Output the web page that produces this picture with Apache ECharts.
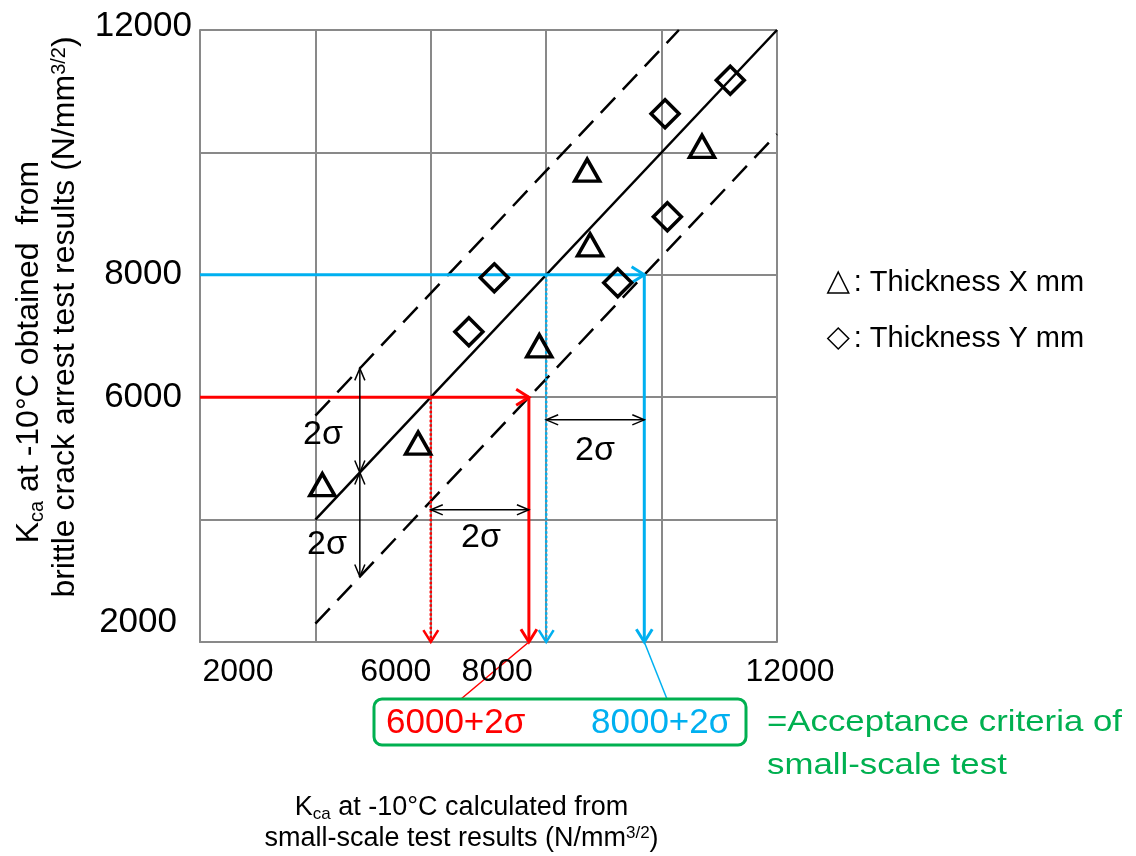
<!DOCTYPE html>
<html>
<head>
<meta charset="utf-8">
<title>Kca acceptance criteria</title>
<script src="https://cdn.jsdelivr.net/npm/echarts@6/dist/echarts.min.js"></script>
<style>
  html, body { margin: 0; padding: 0; background: #fff; }
  #chart { width: 1136px; height: 856px; }
</style>
</head>
<body>
<div id="chart"></div>
<script>
// tick labels that are printed (N/mm^3/2)
const xTicks = [2000, 6000, 8000, 12000]
const yTicks = [2000, 6000, 8000, 12000]

// Thickness X mm (triangles): small-scale estimate vs arrest test
const thickXSmall = [4120, 5780, 7880, 8760, 8710, 10700]
const thickXArrest = [4570, 5250, 6840, 8490, 9710, 10100]
// Thickness Y mm (diamonds)
const thickYSmall = [6660, 7100, 9240, 10100, 10060, 11190]
const thickYArrest = [7070, 7950, 7870, 8950, 10630, 11180]

// mean line and the +/-2 sigma band
const meanLine = [[4000, 4000], [12000, 12000]]
const upperBand = [[4000, 5700], [10300, 12000]]
const lowerBand = [[4000, 2300], [12000, 10300]]

// guide arrows: [x1, y1, x2, y2, headAtStart, headAtEnd]
const redGuide = [[2000, 6000, 7700, 6000, 0, 1], [7700, 6000, 7700, 2000, 0, 1]]
const redDotted = [[6000, 6000, 6000, 2000, 0, 1]]
const blueGuide = [[2000, 8000, 9700, 8000, 0, 1], [9700, 8000, 9700, 2000, 0, 1]]
const blueDotted = [[8000, 8000, 8000, 2000, 0, 1]]
const sigmaArrows = [
  [4770, 6470, 4770, 4770, 1, 1],
  [4770, 4770, 4770, 3070, 1, 1],
  [6000, 4160, 7700, 4160, 1, 1],
  [8000, 5630, 9700, 5630, 1, 1]
]

const FONT = '"Liberation Sans", Arial, sans-serif'
const GRAY = '#898989'
const RED = '#ff0000'
const BLUE = '#00b0f0'
const GREEN = '#00b050'

// label nudges (px) so the tick labels sit where the original put them
const xShift = { 2000: 38, 6000: -35, 8000: -49, 12000: 13 }
const yPad = { 2000: [0, 15, 40, 0], 6000: [0, 10, 0, 0], 8000: [0, 10, 0, 0], 12000: [0, 0, 8, 0] }

const xRich = {}
xTicks.forEach(v => {
  const s = xShift[v]
  xRich['x' + v] = { fontSize: 32, fontFamily: FONT, color: '#000', padding: s > 0 ? [0, 0, 0, 2 * s] : [0, -2 * s, 0, 0] }
})
const yRich = {}
yTicks.forEach(v => {
  yRich['y' + v] = { fontSize: 35, fontFamily: FONT, color: '#000', padding: yPad[v] }
})

const titleRich = (size) => {
  const n = { fontSize: size, fontFamily: FONT, color: '#000', lineHeight: size + 4, verticalAlign: 'middle' }
  const small = Math.round(size * 0.63)
  return {
    n,
    ne: Object.assign({}, n, { padding: [0, 32, 0, 0] }),
    ns: Object.assign({}, n, { padding: [0, 0, 0, 38] }),
    sub: { fontSize: small, fontFamily: FONT, color: '#000', lineHeight: small, verticalAlign: 'bottom' },
    sup: { fontSize: small, fontFamily: FONT, color: '#000', lineHeight: small, verticalAlign: 'top', padding: [2, 0, 0, 0] }
  }
}

const arrowSeries = (name, data, color, width, dash, headLen, headAng) => ({
  type: 'custom',
  name,
  data,
  encode: { x: [0, 2], y: [1, 3] },
  silent: true,
  z: 3,
  renderItem: (params, api) => {
    const a = api.coord([api.value(0), api.value(1)])
    const b = api.coord([api.value(2), api.value(3)])
    const children = [{
      type: 'line',
      shape: { x1: a[0], y1: a[1], x2: b[0], y2: b[1] },
      style: { stroke: color, lineWidth: width, lineDash: dash }
    }]
    const head = (tip, from) => {
      const dx = from[0] - tip[0], dy = from[1] - tip[1]
      const len = Math.hypot(dx, dy)
      const ux = dx / len, uy = dy / len
      const pt = s => {
        const c = Math.cos(s * headAng), sn = Math.sin(s * headAng)
        return [tip[0] + (ux * c - uy * sn) * headLen, tip[1] + (ux * sn + uy * c) * headLen]
      }
      return {
        type: 'polyline',
        shape: { points: [pt(1), tip, pt(-1)] },
        style: { stroke: color, lineWidth: width, fill: null }
      }
    }
    if (api.value(4)) children.push(head(a, b))
    if (api.value(5)) children.push(head(b, a))
    return { type: 'group', children }
  }
})

const bandLine = (name, data, dashed) => ({
  type: 'line',
  name,
  data,
  showSymbol: false,
  silent: true,
  z: 2,
  lineStyle: { color: '#000', width: 2.5, type: dashed ? [21, 11] : 'solid' }
})

const chart = echarts.init(document.getElementById('chart'))

const option = {
  animation: false,
  backgroundColor: '#fff',
  grid: { left: 200, right: 359, top: 30, bottom: 214, outerBoundsMode: 'none' },
  legend: {
    orient: 'vertical',
    left: 822,
    top: 263,
    itemGap: 27,
    itemWidth: 21,
    itemHeight: 21,
    selectedMode: false,
    data: ['Thickness X mm', 'Thickness Y mm'],
    formatter: n => ': ' + n,
    itemStyle: { borderWidth: 1.5 },
    textStyle: { fontSize: 29, fontFamily: FONT, color: '#000' }
  },
  xAxis: {
    type: 'value',
    min: 2000,
    max: 12000,
    interval: 2000,
    axisLine: { show: true, lineStyle: { color: GRAY, width: 2 } },
    axisTick: { show: false },
    splitLine: { show: true, lineStyle: { color: GRAY, width: 2 } },
    axisLabel: {
      margin: 14,
      formatter: v => xTicks.includes(v) ? '{x' + v + '|' + v + '}' : '',
      rich: xRich
    },
    name: '{n|K}{sub|ca}{n| at -10°C calculated from}\n{n|small-scale test results (N/mm}{sup|3/2}{n|)}',
    nameLocation: 'middle',
    nameGap: 150,
    nameTextStyle: { fontSize: 27, fontFamily: FONT, color: '#000', padding: [0, 54, 0, 0], rich: titleRich(27) }
  },
  yAxis: {
    type: 'value',
    min: 2000,
    max: 12000,
    interval: 2000,
    axisLine: { show: true, lineStyle: { color: GRAY, width: 2 } },
    axisTick: { show: false },
    splitLine: { show: true, lineStyle: { color: GRAY, width: 2 } },
    axisLabel: {
      margin: 8,
      formatter: v => yTicks.includes(v) ? '{y' + v + '|' + v + '}' : '',
      rich: yRich
    },
    name: '{n|K}{sub|ca}{ne| at -10°C obtained  from}\n{ns|brittle crack arrest test results (N/mm}{sup|3/2}{n|)}',
    nameLocation: 'middle',
    nameRotate: 90,
    nameGap: 117,
    nameTextStyle: { fontSize: 32, fontFamily: FONT, color: '#000', rich: titleRich(32) }
  },
  series: [
    bandLine('mean', meanLine, false),
    bandLine('upper 2σ', upperBand, true),
    bandLine('lower 2σ', lowerBand, true),
    arrowSeries('red guide', redGuide, RED, 3, null, 15, 0.56),
    arrowSeries('red dotted', redDotted, RED, 2.5, [2.5, 2], 14, 0.56),
    arrowSeries('blue guide', blueGuide, BLUE, 3, null, 15, 0.56),
    arrowSeries('blue dotted', blueDotted, BLUE, 2.5, [2.5, 2], 14, 0.56),
    arrowSeries('2σ', sigmaArrows, '#000', 1.5, null, 13, 0.4),
    {
      name: 'Thickness X mm',
      type: 'scatter',
      z: 4,
      data: thickXSmall.map((x, i) => [x, thickXArrest[i]]),
      symbol: 'triangle',
      symbolSize: [25, 22],
      itemStyle: { color: 'rgba(0,0,0,0)', borderColor: '#000', borderWidth: 3.5, opacity: 1 }
    },
    {
      name: 'Thickness Y mm',
      type: 'scatter',
      z: 4,
      data: thickYSmall.map((x, i) => [x, thickYArrest[i]]),
      symbol: 'diamond',
      symbolSize: [28, 28],
      itemStyle: { color: 'rgba(0,0,0,0)', borderColor: '#000', borderWidth: 3.5, opacity: 1 }
    }
  ]
}

chart.setOption(option)

// annotations drawn after layout so the leader lines start at the arrow tips
const redTip = chart.convertToPixel({ gridIndex: 0 }, [redGuide[1][2], redGuide[1][3]])
const blueTip = chart.convertToPixel({ gridIndex: 0 }, [blueGuide[1][2], blueGuide[1][3]])

const txt = (x, y, text, size, color, align, sx) => ({
  type: 'text',
  x, y,
  scaleX: sx || 1,
  silent: true,
  z: 10,
  style: {
    text, fill: color, fontSize: size, fontFamily: FONT,
    align: align || 'left', verticalAlign: 'middle',
    textAlign: align || 'left', textVerticalAlign: 'middle'
  }
})

chart.setOption({
  graphic: [
    { type: 'line', silent: true, shape: { x1: redTip[0], y1: redTip[1], x2: 461, y2: 699 }, style: { stroke: RED, lineWidth: 1.5 } },
    { type: 'line', silent: true, shape: { x1: blueTip[0], y1: blueTip[1], x2: 667, y2: 699 }, style: { stroke: BLUE, lineWidth: 1.5 } },
    { type: 'rect', silent: true, shape: { x: 374, y: 699, width: 372, height: 46, r: 8 }, style: { fill: '#fff', stroke: GREEN, lineWidth: 3 } },
    txt(386, 723, '6000+2σ', 35, RED),
    txt(591, 723, '8000+2σ', 35, BLUE),
    txt(767, 723, '=Acceptance criteria of', 29, GREEN, 'left', 1.2),
    txt(767, 766, 'small-scale test', 29, GREEN, 'left', 1.2),
    txt(323, 435, '2σ', 34, '#000', 'center'),
    txt(327, 545, '2σ', 34, '#000', 'center'),
    txt(481, 538, '2σ', 34, '#000', 'center'),
    txt(595, 451, '2σ', 34, '#000', 'center')
  ]
})
</script>
</body>
</html>
